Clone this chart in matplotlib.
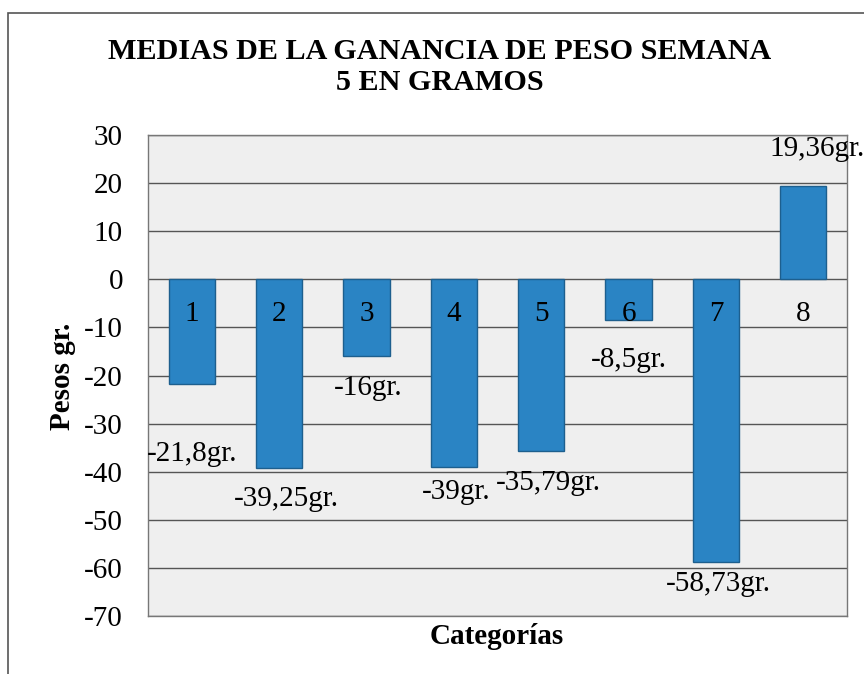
import matplotlib
matplotlib.use("Agg")
import matplotlib.pyplot as plt
from matplotlib.patches import Rectangle

# ---- data ----
categories = ["1", "2", "3", "4", "5", "6", "7", "8"]
values = [-21.8, -39.25, -16, -39, -35.79, -8.5, -58.73, 19.36]
value_labels = ["-21,8gr.", "-39,25gr.", "-16gr.", "-39gr.", "-35,79gr.",
                "-8,5gr.", "-58,73gr.", "19,36gr."]
yticks = [30, 20, 10, 0, -10, -20, -30, -40, -50, -60, -70]

title = "MEDIAS DE LA GANANCIA DE PESO SEMANA\n5 EN GRAMOS"
ylabel = "Pesos gr."
xlabel = "Categorías"

# manual label displacement (points): dx, dy from bar end
label_dx = [0, 5, 1, 2, 5, 0, 2, 10]
label_dy = [50, 22, 23, 18, 23, 29, 16, 27]

plt.rcParams['font.family'] = ['Liberation Serif', 'DejaVu Serif']

fig = plt.figure(figsize=(8.64, 6.74), dpi=100)
fig.patch.set_facecolor("white")

# outer chart border (top and left visible)
fig.patches.append(Rectangle((8/864, -0.2), 1.2, 1.2 - 13/674,
                             transform=fig.transFigure, fill=False,
                             edgecolor="#555555", linewidth=1.2))

ax = fig.add_axes([148/864, 1 - 616/674, 699/864, (616 - 135)/674])
ax.set_facecolor("#efefef")

x = list(range(len(categories)))
ax.bar(x, values, width=0.53, color="#2a84c4", edgecolor="#1d5f8e",
       linewidth=1.0, zorder=3)

ax.set_xlim(-0.5, len(categories) - 0.5)
ax.set_ylim(-70, 30)
ax.set_yticks(yticks)
ax.set_yticklabels([str(t) for t in yticks], fontsize=21)
ax.tick_params(axis='y', length=0, pad=18)
ax.set_xticks([])
ax.grid(axis='y', color="#555555", linewidth=1.0, zorder=1)
for s in ax.spines.values():
    s.set_color("#777777")
    s.set_linewidth(1.0)

# category labels near zero line
for i, c in enumerate(categories):
    ax.annotate(c, (i, 0), xytext=(0, -25), textcoords="offset points",
                ha="center", va="center", fontsize=21, zorder=4)

# value labels
for i, (v, lab) in enumerate(zip(values, value_labels)):
    sign = 1 if v >= 0 else -1
    ax.annotate(lab, (i, v), xytext=(label_dx[i], sign * label_dy[i]),
                textcoords="offset points", ha="center", va="center",
                fontsize=21, zorder=4, annotation_clip=False)

fig.text(440/864, 1 - 67/674, title, ha="center", va="center",
         fontsize=21.7, fontweight="bold", linespacing=1.15)
fig.text(63/864, 1 - 376/674, ylabel, ha="center", va="center",
         rotation=90, fontsize=21, fontweight="bold")
fig.text(497/864, 1 - 636/674, xlabel, ha="center", va="center",
         fontsize=21, fontweight="bold")

fig.savefig("out.png", dpi=100, facecolor="white")
